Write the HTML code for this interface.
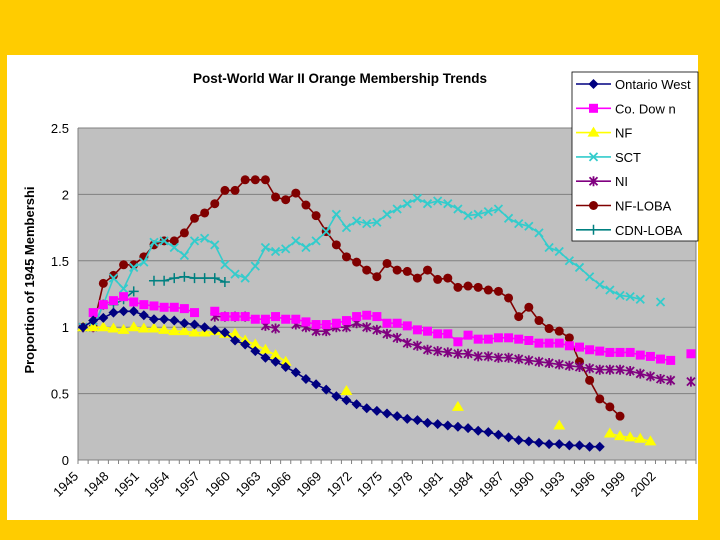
<!DOCTYPE html>
<html><head><meta charset="utf-8"><style>
body{margin:0;background:#FFCC00;}
svg{display:block;font-family:"Liberation Sans",Arial,sans-serif;}
</style></head><body>
<svg id="chart" width="720" height="540">
<rect x="0" y="0" width="720" height="540" fill="#FFCC00"/>
<rect x="7" y="55" width="691" height="465" fill="#ffffff"/>
<text x="340" y="83" text-anchor="middle" font-size="13.5" font-weight="bold">Post-World War II Orange Membership Trends</text>
<text transform="translate(34,280) rotate(-90)" text-anchor="middle" font-size="13" font-weight="bold">Proportion of 1945 Membershi</text>
<g id="plot"></g>
<g id="legend"></g>
</svg>
<script>
const years = [];
for (let y = 1945; y <= 2005; y++) years.push(y);
const yTicks = [0, 0.5, 1, 1.5, 2, 2.5];
const yTickLabels = ["0", "0.5", "1", "1.5", "2", "2.5"];
const xLabelYears = [1945,1948,1951,1954,1957,1960,1963,1966,1969,1972,1975,1978,1981,1984,1987,1990,1993,1996,1999,2002];
const _ = null;
const ontarioWest = [1.0,1.05,1.07,1.11,1.12,1.12,1.09,1.06,1.06,1.05,1.03,1.02,1.0,0.98,0.96,0.9,0.87,0.82,0.77,0.74,0.7,0.66,0.61,0.57,0.53,0.48,0.45,0.42,0.39,0.37,0.35,0.33,0.31,0.3,0.28,0.27,0.26,0.25,0.24,0.22,0.21,0.19,0.17,0.15,0.14,0.13,0.12,0.12,0.11,0.11,0.1,0.1,_,_,_,_,_,_,_,_,_];
const coDown = [_,1.11,1.17,1.2,1.23,1.19,1.17,1.16,1.15,1.15,1.14,1.11,_,1.12,1.08,1.08,1.08,1.06,1.06,1.08,1.06,1.06,1.04,1.02,1.02,1.03,1.05,1.08,1.09,1.08,1.03,1.03,1.01,0.98,0.97,0.95,0.95,0.89,0.94,0.91,0.91,0.92,0.92,0.91,0.9,0.88,0.88,0.88,0.86,0.85,0.83,0.82,0.81,0.81,0.81,0.79,0.78,0.76,0.75,_,0.8];
const nf = [1.0,1.0,1.0,0.99,0.98,1.0,0.99,0.99,0.98,0.97,0.97,0.96,0.96,0.97,0.95,0.95,0.9,0.87,0.83,0.79,0.74,_,_,_,_,_,0.52,_,_,_,_,_,_,_,_,_,_,0.4,_,_,_,_,_,_,_,_,_,0.26,_,_,_,_,0.2,0.18,0.17,0.16,0.14,_,_,_,_];
const sct = [1.0,1.0,1.17,1.37,1.29,1.45,1.49,1.64,1.65,1.6,1.54,1.65,1.67,1.62,1.47,1.4,1.37,1.46,1.6,1.57,1.59,1.65,1.6,1.65,1.72,1.85,1.75,1.8,1.78,1.79,1.85,1.89,1.93,1.97,1.93,1.95,1.93,1.89,1.84,1.85,1.87,1.89,1.82,1.78,1.76,1.71,1.6,1.57,1.5,1.45,1.38,1.32,1.28,1.24,1.23,1.21,_,1.19,_,_,_];
const ni = [1.0,1.0,1.17,_,_,_,_,_,_,_,_,_,_,1.08,1.08,1.08,1.08,_,1.01,0.99,_,1.02,1.0,0.97,0.97,1.0,1.0,1.03,1.0,0.98,0.95,0.92,0.88,0.86,0.83,0.82,0.81,0.8,0.8,0.78,0.78,0.77,0.77,0.76,0.75,0.74,0.73,0.72,0.71,0.7,0.69,0.68,0.68,0.68,0.67,0.65,0.63,0.61,0.6,_,0.59];
const nfLoba = [1.0,1.0,1.33,1.39,1.47,1.47,1.53,1.62,1.65,1.65,1.71,1.82,1.86,1.93,2.03,2.03,2.11,2.11,2.11,1.98,1.96,2.01,1.92,1.84,1.72,1.62,1.53,1.49,1.43,1.38,1.48,1.43,1.42,1.37,1.43,1.36,1.37,1.3,1.31,1.3,1.28,1.27,1.22,1.08,1.15,1.05,0.99,0.97,0.92,0.74,0.6,0.46,0.4,0.33,_,_,_,_,_,_,_];
const cdnLoba = [1.0,_,_,1.17,1.21,1.27,_,1.35,1.35,1.37,1.38,1.37,1.37,1.37,1.34,_,_,_,_,_,_,_,_,_,_,_,_,_,_,_,_,_,_,_,_,_,_,_,_,_,_,_,_,_,_,_,_,_,_,_,_,_,_,_,_,_,_,_,_,_,_];
const seriesNames = ["Ontario West","Co. Dow n","NF","SCT","NI","NF-LOBA","CDN-LOBA"];

const L = 78, R = 696, T = 128, B = 460, yMax = 2.5;
const cw = (R - L) / years.length;
function xPos(i){ return L + cw * (i + 0.5); }
function yPos(v){ return B - (v / yMax) * (B - T); }
const NS = "http://www.w3.org/2000/svg";
function mk(tag, attrs, parent){ const e = document.createElementNS(NS, tag); for (const k in attrs) e.setAttribute(k, attrs[k]); parent.appendChild(e); return e; }
const plot = document.getElementById('plot');
const area = mk('rect', {x:L, y:T, width:R-L, height:B-T, fill:'#C0C0C0'}, plot);


yTicks.forEach((t, k) => {
  if (t > 0) {
    const g = mk('line', {x1:L, x2:R, y1:yPos(t), y2:yPos(t), stroke:'#808080', 'stroke-width':1}, plot);
    
    
  }
  const lb = mk('text', {x:L-9, y:yPos(t)+5, 'text-anchor':'end', 'font-size':13}, plot);
  lb.textContent = yTickLabels[k];
  
  
});
const ax = mk('line', {x1:L, x2:L, y1:T, y2:B, stroke:'#808080'}, plot);


const bx = mk('line', {x1:L, x2:R, y1:B, y2:B, stroke:'#808080'}, plot);


mk('line', {x1:R, x2:R, y1:T, y2:B, stroke:'#808080'}, plot);
for (let i = 0; i <= years.length; i++) mk('line', {x1:L+cw*i, x2:L+cw*i, y1:B, y2:B+4, stroke:'#808080'}, plot);
xLabelYears.forEach(yr => {
  const i = years.indexOf(yr);
  const x = xPos(i) - 4, y = B + 17;
  const lb = mk('text', {x:x, y:y, 'text-anchor':'end', 'font-size':13, transform:`rotate(-45 ${x} ${y})`}, plot);
  lb.textContent = String(yr);
  
  
});

function marker(type, x, y, color, parent){
  let e;
  if (type === 'diamond') e = mk('polygon', {points:`${x},${y-5} ${x+5},${y} ${x},${y+5} ${x-5},${y}`, fill:color}, parent);
  else if (type === 'square') e = mk('rect', {x:x-4.5, y:y-4.5, width:9, height:9, fill:color}, parent);
  else if (type === 'triangle') e = mk('polygon', {points:`${x},${y-6} ${x+6},${y+4} ${x-6},${y+4}`, fill:color}, parent);
  else if (type === 'x') e = mk('path', {d:`M${x-4},${y-4}L${x+4},${y+4}M${x-4},${y+4}L${x+4},${y-4}`, stroke:color, 'stroke-width':1.8}, parent);
  else if (type === 'star') e = mk('path', {d:`M${x-4},${y-4}L${x+4},${y+4}M${x-4},${y+4}L${x+4},${y-4}M${x},${y-5}L${x},${y+5}`, stroke:color, 'stroke-width':1.8}, parent);
  else if (type === 'circle') e = mk('circle', {cx:x, cy:y, r:4.5, fill:color}, parent);
  else e = mk('path', {d:`M${x-5},${y}L${x+5},${y}M${x},${y-5}L${x},${y+5}`, stroke:color, 'stroke-width':1.5}, parent);
  return e;
}
const seriesData = [ontarioWest, coDown, nf, sct, ni, nfLoba, cdnLoba];
const colors = ["#000080","#FF00FF","#FFFF00","#33CCCC","#800080","#800000","#008080"];
const markers = ["diamond","square","triangle","x","star","circle","plus"];
const keys = ["ontario-west","co-down","nf","sct","ni","nf-loba","cdn-loba"];
const drawOrder = [6,5,4,3,2,1,0];
drawOrder.forEach(s => {
  const g = mk('g', {}, plot);
  
  
  const vals = seriesData[s];
  let d = '', pen = false;
  vals.forEach((v, i) => {
    if (v === null) { pen = false; return; }
    d += (pen ? 'L' : 'M') + xPos(i).toFixed(1) + ',' + yPos(v).toFixed(1);
    pen = true;
  });
  const ln = mk('path', {d:d, fill:'none', stroke:colors[s], 'stroke-width':1.6}, g);
  
  
  vals.forEach((v, i) => {
    if (v === null) return;
    const m = marker(markers[s], xPos(i), yPos(v), colors[s], g);
    
    
  });
});
const leg = document.getElementById('legend');
const box = mk('rect', {x:572, y:72, width:126, height:169, fill:'#fff', stroke:'#000', 'stroke-width':0.8}, leg);


seriesNames.forEach((n, s) => {
  const y = 84 + s * 24.3;
  const g = mk('g', {}, leg);
  
  
  mk('line', {x1:576, x2:611, y1:y, y2:y, stroke:colors[s], 'stroke-width':1.6}, g);
  marker(markers[s], 593.5, y, colors[s], g);
  const t = mk('text', {x:615, y:y+5, 'font-size':13}, g);
  t.textContent = n;
});
</script>
</body></html>
